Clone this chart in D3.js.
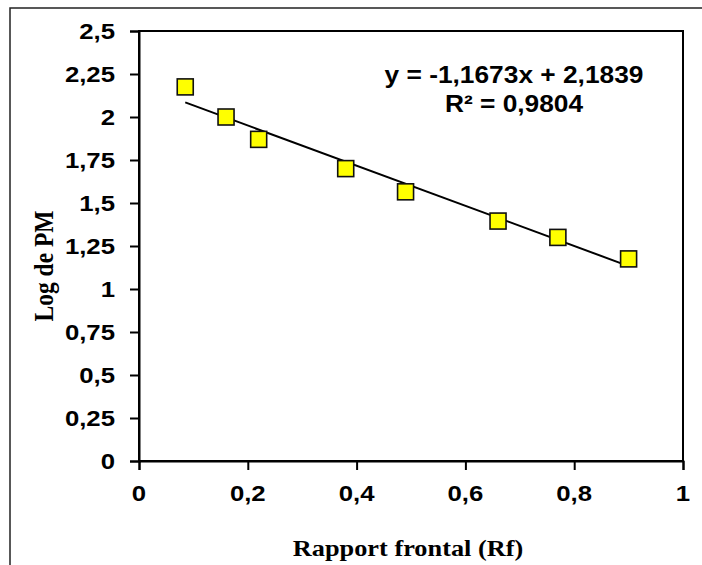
<!DOCTYPE html>
<html>
<head>
<meta charset="utf-8">
<script src="https://cdn.jsdelivr.net/npm/d3@7"></script>
<style>
  body { margin: 0; background: #fff; }
  svg { display: block; }
</style>
</head>
<body>
<svg id="chart"></svg>
<script>
// data
const rfValues = [0.085, 0.16, 0.22, 0.38, 0.49, 0.66, 0.77, 0.9];
const logPM = [2.175, 2.0, 1.87, 1.7, 1.565, 1.395, 1.3, 1.175];
const xTicks = [0, 0.2, 0.4, 0.6, 0.8, 1];
const yTicks = [0, 0.25, 0.5, 0.75, 1, 1.25, 1.5, 1.75, 2, 2.25, 2.5];
const slope = -1.1673, intercept = 2.1839;
const eqLines = ["y = -1,1673x + 2,1839", "R\u00b2 = 0,9804"];

const width = 702, height = 565;
const plot = { left: 139, right: 683, top: 31, bottom: 461 };
const stretch = 1.12; // the original is a bit wider than tall

const svg = d3.select("#chart").attr("width", width).attr("height", height);

// outer chart frame (right and bottom run off the picture)
svg.append("rect")
  .attr("x", 10).attr("y", 8)
  .attr("width", 720).attr("height", 600)
  .attr("fill", "none")
  .attr("stroke", "#222")
  .attr("stroke-width", 1.5);

const x = d3.scaleLinear().domain([0, 1]).range([plot.left, plot.right]);
const y = d3.scaleLinear().domain([0, 2.5]).range([plot.bottom, plot.top]);

const comma = (d) => String(d).replace(".", ",");

// plot area border
svg.append("rect")
  .attr("x", plot.left).attr("y", plot.top)
  .attr("width", plot.right - plot.left)
  .attr("height", plot.bottom - plot.top)
  .attr("fill", "none")
  .attr("stroke", "#000")
  .attr("stroke-width", 2);

// y axis
const yAxis = svg.append("g")
  .attr("transform", `translate(${plot.left},0)`)
  .call(d3.axisLeft(y).tickValues(yTicks).tickSize(9).tickFormat(""));
yAxis.select(".domain").attr("stroke-width", 2);
yAxis.selectAll(".tick line").attr("stroke-width", 2);

svg.selectAll(".ylab")
  .data(yTicks)
  .enter()
  .append("text")
  .attr("class", "ylab")
  .attr("transform", (d) => `translate(115,${y(d) + 8}) scale(${stretch},1)`)
  .attr("text-anchor", "end")
  .attr("font-family", "Liberation Sans, Arial, sans-serif")
  .attr("font-weight", "bold")
  .attr("font-size", 23)
  .text(comma);

// x axis
const xAxis = svg.append("g")
  .attr("transform", `translate(0,${plot.bottom})`)
  .call(d3.axisBottom(x).tickValues(xTicks).tickSize(9).tickFormat(""));
xAxis.select(".domain").attr("stroke-width", 2);
xAxis.selectAll(".tick line").attr("stroke-width", 2);

svg.selectAll(".xlab")
  .data(xTicks)
  .enter()
  .append("text")
  .attr("class", "xlab")
  .attr("transform", (d) => `translate(${x(d)},501) scale(${stretch},1)`)
  .attr("text-anchor", "middle")
  .attr("font-family", "Liberation Sans, Arial, sans-serif")
  .attr("font-weight", "bold")
  .attr("font-size", 23)
  .text(comma);

// axis titles
svg.append("text")
  .attr("transform", `translate(408,556) scale(${stretch},1)`)
  .attr("text-anchor", "middle")
  .attr("font-family", "Liberation Serif, Times New Roman, serif")
  .attr("font-weight", "bold")
  .attr("font-size", 23.5)
  .text("Rapport frontal (Rf)");

svg.append("text")
  .attr("transform", `translate(53,266) rotate(-90) scale(1,${stretch})`)
  .attr("text-anchor", "middle")
  .attr("font-family", "Liberation Serif, Times New Roman, serif")
  .attr("font-weight", "bold")
  .attr("font-size", 23.5)
  .text("Log de PM");

// trend line
const xMin = d3.min(rfValues), xMax = d3.max(rfValues);
svg.append("line")
  .attr("x1", x(xMin)).attr("y1", y(slope * xMin + intercept))
  .attr("x2", x(xMax)).attr("y2", y(slope * xMax + intercept))
  .attr("stroke", "#000")
  .attr("stroke-width", 2);

// markers
const points = rfValues.map((v, i) => ({ rf: v, lp: logPM[i] }));
const size = 16;
svg.selectAll(".pt")
  .data(points)
  .enter()
  .append("rect")
  .attr("class", "pt")
  .attr("x", (d) => x(d.rf) - size / 2)
  .attr("y", (d) => y(d.lp) - size / 2)
  .attr("width", size)
  .attr("height", size)
  .attr("fill", "#ffff00")
  .attr("stroke", "#111")
  .attr("stroke-width", 1.6);

// equation label
svg.selectAll(".eq")
  .data(eqLines)
  .enter()
  .append("text")
  .attr("class", "eq")
  .attr("transform", (d, i) => `translate(514,${83 + i * 29}) scale(${stretch},1)`)
  .attr("text-anchor", "middle")
  .attr("font-family", "Liberation Sans, Arial, sans-serif")
  .attr("font-weight", "bold")
  .attr("font-size", 23.5)
  .text((d) => d);
</script>
</body>
</html>
